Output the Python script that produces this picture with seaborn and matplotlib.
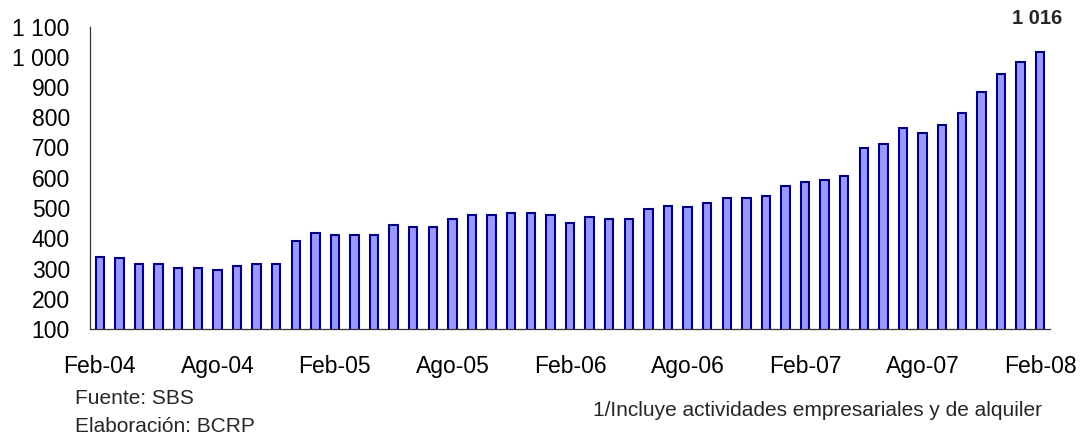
import numpy as np
import pandas as pd
import matplotlib
matplotlib.use("Agg")
import matplotlib.pyplot as plt
import seaborn as sns

# ---- data ----
months_es = ["Ene", "Feb", "Mar", "Abr", "May", "Jun", "Jul", "Ago", "Set", "Oct", "Nov", "Dic"]
periods = [f"{months_es[(1 + i) % 12]}-{(4 + (1 + i) // 12):02d}" for i in range(49)]
values = [339, 334, 314, 314, 302, 302, 295, 307, 314, 314,
          392, 418, 411, 411, 411, 443, 437, 437, 463, 476,
          476, 483, 483, 476, 451, 469, 463, 463, 496, 508,
          502, 515, 534, 534, 541, 574, 586, 593, 606, 698,
          710, 763, 749, 775, 813, 885, 943, 982, 1016]
tick_labels = ["Feb-04", "Ago-04", "Feb-05", "Ago-05", "Feb-06", "Ago-06", "Feb-07", "Ago-07", "Feb-08"]
y_ticks = [100, 200, 300, 400, 500, 600, 700, 800, 900, 1000, 1100]
last_label = "1 016"

df = pd.DataFrame({"periodo": periods, "valor": values})

sns.set_theme(style="white")
plt.rcParams["font.family"] = ["Liberation Sans", "DejaVu Sans"]

fig = plt.figure(figsize=(10.82, 4.37), dpi=100)
ax = fig.add_axes([90 / 1082, 1 - 329 / 437, 960 / 1082, (329 - 26.5) / 437])

sns.barplot(data=df, x="periodo", y="valor", ax=ax, color="#9999FF",
            saturation=1, width=0.43, edgecolor="#000080", linewidth=1.5)

ax.set_ylim(100, 1100)
ax.set_xlim(-0.5, len(values) - 0.5)
ax.set_yticks(y_ticks)
ax.set_yticklabels([f"{v:,}".replace(",", " ") for v in y_ticks])
ax.set_xticks(range(0, len(values), 6))
ax.set_xticklabels(tick_labels)
ax.set_xticks(np.arange(-0.5, len(values), 6), minor=True)

ax.tick_params(axis="x", which="major", length=0, pad=19, labelsize=16.5, colors="black")
ax.tick_params(axis="x", which="minor", length=5.5, width=0.9, color="#333333", direction="out")
ax.tick_params(axis="y", which="major", length=5.5, width=0.9, color="#333333",
               direction="out", pad=9, labelsize=16.5, labelcolor="black")
ax.tick_params(axis="x", labelcolor="black")

for side in ["top", "right"]:
    ax.spines[side].set_visible(False)
for side in ["left", "bottom"]:
    ax.spines[side].set_color("#333333")
    ax.spines[side].set_linewidth(0.9)

ax.set_xlabel("")
ax.set_ylabel("")

ax.text(len(values) - 1.15, 1125, last_label, ha="center", va="center",
        fontsize=14.5, fontweight="bold", clip_on=False)

fig.text(75 / 1082, 1 - 398 / 437, "Fuente: SBS", fontsize=15, ha="left", va="center")
fig.text(75 / 1082, 1 - 427 / 437, "Elaboración: BCRP", fontsize=15, ha="left", va="center")
fig.text(1042 / 1082, 1 - 411 / 437, "1/Incluye actividades empresariales y de alquiler",
         fontsize=15, ha="right", va="center")

fig.savefig("out.png", dpi=100)
